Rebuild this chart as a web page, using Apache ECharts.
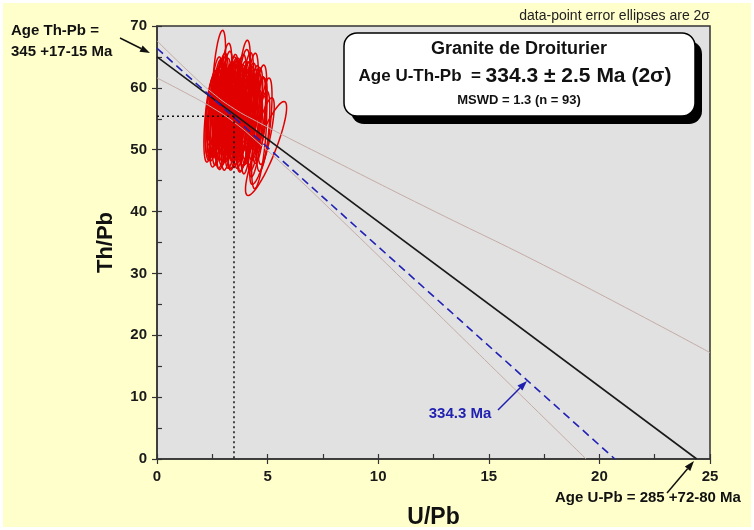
<!DOCTYPE html>
<html>
<head>
<meta charset="utf-8">
<title>Granite de Droiturier</title>
<script src="https://cdn.jsdelivr.net/npm/echarts@6/dist/echarts.min.js"></script>
<style>
html, body { margin: 0; padding: 0; background: #fff; }
#main { width: 754px; height: 530px; }
</style>
</head>
<body>
<div id="main"></div>
<script>
// axes
var xMin = 0, xMax = 25, xStep = 5;
var yMin = 0, yMax = 70, yStep = 10;

// error ellipses (2 sigma): centre, half-widths, correlation
var ellipseX = [2.80, 3.08, 3.38, 3.92, 4.28, 4.64, 4.88, 2.42, 3.50, 3.92, 4.10, 4.45, 4.62, 4.93, 4.75,
  2.45, 2.50, 2.58, 2.62, 2.48, 2.70, 2.66, 2.55, 2.72, 2.60,
  2.80, 2.85, 2.78, 2.90, 2.95, 2.88, 3.00, 2.82, 2.98, 2.92,
  3.05, 3.10, 3.15, 3.08, 3.20, 3.25, 3.12, 3.28, 3.18, 3.30,
  3.35, 3.40, 3.38, 3.45, 3.50, 3.55, 3.42, 3.58, 3.48, 3.60,
  3.65, 3.70, 3.75, 3.68, 3.85, 3.78, 3.90, 3.72, 3.88, 3.82,
  3.95, 4.00, 4.05, 4.10, 4.02, 4.15, 4.20, 3.98,
  4.28, 4.32, 4.38, 4.45, 4.40, 4.48,
  4.62, 4.70, 4.80, 4.65,
  2.75, 3.02, 3.22, 3.52, 3.62, 3.92, 4.12, 3.32, 2.68, 4.08];
var ellipseY = [62.3, 60.2, 58.4, 60.7, 58.6, 56.7, 54.6, 55.0, 54.0, 53.4, 53.9, 52.6, 51.2, 50.2, 51.4,
  55.5, 56.8, 54.2, 57.0, 53.8, 55.8, 53.0, 56.8, 57.0, 56.0,
  58.2, 55.4, 53.5, 57.0, 54.2, 59.0, 56.2, 56.5, 52.8, 58.6,
  57.8, 55.0, 59.4, 53.6, 56.8, 54.5, 57.0, 56.0, 52.5, 58.0,
  55.4, 57.3, 53.8, 58.3, 56.4, 54.6, 55.9, 57.6, 52.9, 55.5,
  56.8, 54.6, 58.4, 55.6, 57.8, 53.5, 59.2, 56.2, 55.2, 54.0,
  56.0, 57.6, 54.5, 56.8, 53.2, 55.6, 57.5, 58.2,
  56.2, 54.6, 57.4, 55.3, 53.2, 56.8,
  54.8, 55.6, 53.0, 56.2,
  58.8, 55.6, 58.2, 59.0, 53.2, 52.6, 53.8, 57.2, 59.5, 59.5];
var ellipseSx = [0.30, 0.30, 0.30, 0.30, 0.30, 0.32, 0.32, 0.30, 0.30, 0.32, 0.30, 0.32, 0.34, 0.93, 0.55,
  0.28, 0.27, 0.30, 0.28, 0.27, 0.31, 0.28, 0.26, 0.30, 0.31,
  0.28, 0.31, 0.28, 0.30, 0.31, 0.27, 0.30, 0.32, 0.28, 0.30,
  0.30, 0.30, 0.28, 0.28, 0.31, 0.30, 0.27, 0.32, 0.27, 0.28,
  0.31, 0.30, 0.30, 0.28, 0.31, 0.30, 0.27, 0.30, 0.28, 0.32,
  0.30, 0.31, 0.30, 0.28, 0.30, 0.30, 0.31, 0.32, 0.30, 0.28,
  0.31, 0.30, 0.31, 0.30, 0.28, 0.31, 0.30, 0.27,
  0.30, 0.31, 0.28, 0.31, 0.30, 0.30,
  0.31, 0.28, 0.30, 0.27,
  0.27, 0.28, 0.27, 0.27, 0.28, 0.28, 0.28, 0.33, 0.26, 0.28];
var ellipseSy = [7.0, 7.0, 7.0, 7.0, 7.0, 7.0, 7.0, 7.0, 7.0, 7.0, 7.8, 7.0, 7.5, 7.6, 7.0,
  6.5, 6.0, 6.0, 6.2, 5.5, 6.8, 5.8, 5.5, 6.5, 7.2,
  6.5, 7.0, 6.0, 6.8, 7.2, 6.0, 6.5, 7.5, 6.0, 7.0,
  7.0, 6.8, 6.5, 6.2, 7.2, 6.5, 6.0, 7.5, 5.8, 6.2,
  7.0, 6.5, 6.8, 6.5, 7.2, 6.5, 6.0, 6.8, 6.2, 7.5,
  7.0, 7.0, 7.0, 6.5, 6.5, 6.5, 7.0, 7.5, 6.8, 6.0,
  7.0, 6.5, 7.0, 6.8, 6.0, 7.2, 6.5, 6.0,
  6.8, 7.0, 6.2, 7.0, 6.5, 6.5,
  7.0, 6.0, 6.5, 5.5,
  5.8, 6.0, 5.8, 5.8, 6.0, 6.0, 6.2, 7.8, 5.5, 6.2];
var ellipseRho = [0.55, 0.55, 0.55, 0.55, 0.55, 0.58, 0.58, 0.55, 0.55, 0.55, 0.58, 0.58, 0.60, 0.87, 0.80,
  0.52, 0.55, 0.52, 0.55, 0.52, 0.55, 0.52, 0.55, 0.52, 0.55,
  0.55, 0.52, 0.55, 0.52, 0.55, 0.52, 0.55, 0.52, 0.55, 0.52,
  0.52, 0.55, 0.52, 0.55, 0.52, 0.55, 0.52, 0.55, 0.52, 0.55,
  0.55, 0.52, 0.55, 0.52, 0.55, 0.52, 0.55, 0.52, 0.55, 0.52,
  0.52, 0.55, 0.52, 0.55, 0.52, 0.55, 0.52, 0.55, 0.52, 0.55,
  0.55, 0.52, 0.55, 0.52, 0.55, 0.52, 0.55, 0.52,
  0.55, 0.52, 0.55, 0.52, 0.55, 0.52,
  0.55, 0.52, 0.55, 0.52,
  0.52, 0.55, 0.52, 0.55, 0.52, 0.55, 0.52, 0.55, 0.52, 0.55];

// regression line (U-Th-Pb age fit) and its error envelope
var fitLine = [[0, 65.0], [24.4, 0]];
var refLine = [[0, 66.4], [20.7, 0]];          // 334.3 Ma reference
var envUpper = [[0, 67.6], [1.5, 62.4], [2.5, 59.2], [3.5, 56.6], [4.5, 54.6], [6, 51.8], [8, 48.2], [12, 41.0], [18, 30.4], [25, 17.2]];
var envLower = [[0, 61.6], [1.5, 58.8], [2.5, 56.8], [3.5, 54.4], [4.5, 51.4], [6, 46.6], [8, 39.8], [12, 25.9], [16, 11.9], [19.4, 0]];
var centroid = [3.48, 55.4];

var FONT = "'Liberation Sans', Arial, sans-serif";
var ink = '#222';

var ellipseData = ellipseX.map(function (x, i) {
    return [x, ellipseY[i], ellipseSx[i], ellipseSy[i], ellipseRho[i]];
});

function arrow(x1, y1, x2, y2, color) {
    var a = Math.atan2(y2 - y1, x2 - x1), L = 10, W = 3.5;
    var bx = x2 - L * Math.cos(a), by = y2 - L * Math.sin(a);
    return [
        { type: 'line', shape: { x1: x1, y1: y1, x2: bx, y2: by }, style: { stroke: color, lineWidth: 1.5 }, z: 10 },
        { type: 'polygon', shape: { points: [[x2, y2],
            [bx + W * Math.sin(a), by - W * Math.cos(a)],
            [bx - W * Math.sin(a), by + W * Math.cos(a)]] }, style: { fill: color }, z: 10 }
    ];
}

var chart = echarts.init(document.getElementById('main'));

var graphics = [
    { type: 'rect', shape: { x: 3, y: 3, width: 748, height: 524 }, style: { fill: '#ffffcc' }, z: -10 },
    { type: 'text', x: 710, y: 16, z: 10,
      style: { text: 'data-point error ellipses are 2σ', font: '14px ' + FONT, fill: ink, align: 'right', verticalAlign: 'middle' } },
    // title box with drop shadow
    { type: 'rect', shape: { x: 351, y: 41, width: 351, height: 83, r: 13 }, style: { fill: '#000' }, z: 10 },
    { type: 'rect', shape: { x: 344, y: 33, width: 351, height: 83, r: 13 }, style: { fill: '#fff', stroke: '#000', lineWidth: 1.5 }, z: 10 },
    { type: 'text', x: 519, y: 49, z: 11,
      style: { text: 'Granite de Droiturier', font: 'bold 18px ' + FONT, fill: '#111', align: 'center', verticalAlign: 'middle' } },
    { type: 'text', x: 515, y: 76, z: 11,
      style: { text: '{a|Age U-Th-Pb  = }{b|334.3 ± 2.5 Ma (2σ)}', align: 'center', verticalAlign: 'middle',
        rich: { a: { font: 'bold 17px ' + FONT, fill: '#111' }, b: { font: 'bold 21px ' + FONT, fill: '#111' } } } },
    { type: 'text', x: 519, y: 100, z: 11,
      style: { text: 'MSWD = 1.3 (n = 93)', font: 'bold 13px ' + FONT, fill: '#111', align: 'center', verticalAlign: 'middle' } },
    // annotations
    { type: 'text', x: 11, y: 31, z: 10,
      style: { text: 'Age Th-Pb =', font: 'bold 15px ' + FONT, fill: '#111', verticalAlign: 'middle' } },
    { type: 'text', x: 11, y: 52, z: 10,
      style: { text: '345 +17-15 Ma', font: 'bold 15px ' + FONT, fill: '#111', verticalAlign: 'middle' } },
    { type: 'text', x: 460, y: 414, z: 10,
      style: { text: '334.3 Ma', font: 'bold 15px ' + FONT, fill: '#1f1fb0', align: 'center', verticalAlign: 'middle' } },
    { type: 'text', x: 648, y: 498, z: 10,
      style: { text: 'Age U-Pb = 285 +72-80 Ma', font: 'bold 15px ' + FONT, fill: '#111', align: 'center', verticalAlign: 'middle' } }
].concat(arrow(120, 38, 150, 53, '#111'))
 .concat(arrow(498, 410, 527, 381, '#1f1fb0'))
 .concat(arrow(667, 493, 694, 461, '#111'));

var baseAxis = {
    type: 'value',
    splitLine: { show: false },
    axisLine: { show: true, onZero: false, lineStyle: { color: '#333', width: 1.5 } },
    axisTick: { show: true, inside: true, length: 5, lineStyle: { color: '#333', width: 1.2 } },
    minorTick: { show: true, splitNumber: 2, length: 5, lineStyle: { color: '#333', width: 1.2 } },
    axisLabel: { show: false }
};
var outAxis = {
    type: 'value',
    splitLine: { show: false },
    axisLine: { show: false },
    axisTick: { show: true, inside: false, length: 5, lineStyle: { color: '#333', width: 1.2 } },
    axisLabel: { show: true, fontFamily: FONT, fontWeight: 'bold', fontSize: 15, color: '#1a1a1a', margin: 10 }
};

chart.setOption({
    backgroundColor: '#fff',
    animation: false,
    grid: { left: 157, top: 26, right: 44, bottom: 71, show: true, outerBoundsMode: 'none',
        backgroundColor: '#e1e1e1', borderColor: '#333', borderWidth: 1.5 },
    xAxis: [
        Object.assign({}, baseAxis, { min: xMin, max: xMax, interval: xStep, position: 'bottom' }),
        Object.assign({}, outAxis, { min: xMin, max: xMax, interval: xStep, position: 'bottom',
            name: 'U/Pb', nameLocation: 'middle', nameGap: 47,
            nameTextStyle: { fontFamily: FONT, fontWeight: 'bold', fontSize: 23, color: '#111' } })
    ],
    yAxis: [
        Object.assign({}, baseAxis, { min: yMin, max: yMax, interval: yStep, position: 'left' }),
        Object.assign({}, outAxis, { min: yMin, max: yMax, interval: yStep, position: 'left',
            name: 'Th/Pb', nameLocation: 'middle', nameGap: 40,
            nameTextStyle: { fontFamily: FONT, fontWeight: 'bold', fontSize: 22, color: '#111' } })
    ],
    graphic: graphics,
    series: [
        {
            type: 'custom',
            name: 'ellipses',
            data: ellipseData,
            encode: { x: 0, y: 1 },
            z: 2,
            renderItem: function (params, api) {
                var cx = api.value(0), cy = api.value(1), sx = api.value(2), sy = api.value(3), r = api.value(4);
                var k = Math.sqrt(1 - r * r), pts = [];
                for (var i = 0; i < 60; i++) {
                    var t = i / 60 * Math.PI * 2;
                    pts.push(api.coord([cx + sx * Math.cos(t), cy + sy * (r * Math.cos(t) + k * Math.sin(t))]));
                }
                return { type: 'polygon', shape: { points: pts }, style: { fill: 'none', stroke: '#e00000', lineWidth: 1.5 } };
            }
        },
        { type: 'line', data: envUpper, symbol: 'none', smooth: true, z: 3, lineStyle: { color: '#c4aca6', width: 1 } },
        { type: 'line', data: envLower, symbol: 'none', smooth: true, z: 3, lineStyle: { color: '#c4aca6', width: 1 } },
        { type: 'line', data: fitLine, symbol: 'none', z: 4, lineStyle: { color: '#1a1a1a', width: 1.6 } },
        { type: 'line', data: refLine, symbol: 'none', z: 4, lineStyle: { color: '#2020b4', width: 1.6, type: [8, 5] } },
        { type: 'line', data: [[0, centroid[1]], centroid], symbol: 'none', z: 4, lineStyle: { color: '#111', width: 1.5, type: [2, 3] } },
        { type: 'line', data: [centroid, [centroid[0], 0]], symbol: 'none', z: 4, lineStyle: { color: '#111', width: 1.5, type: [2, 3] } }
    ]
});
</script>
</body>
</html>
